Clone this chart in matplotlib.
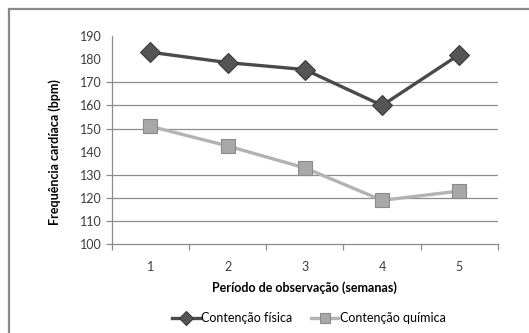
import matplotlib
matplotlib.use("Agg")
import matplotlib.pyplot as plt
from matplotlib.patches import Rectangle
from matplotlib.ticker import FixedLocator

# Heart rate per observation week, two restraint methods
semanas = [1, 2, 3, 4, 5]
contencao_fisica = [183, 178.5, 175.5, 160, 182]
contencao_quimica = [151, 142.5, 133, 119, 123]

y_ticks = [100, 110, 120, 130, 140, 150, 160, 170, 180, 190]
grid_vals = [110, 120, 130, 150, 160, 170]
tick_marks_y = [100, 110, 120, 130, 150, 160, 170]

plt.rcParams['font.family'] = ['Lato', 'DejaVu Sans']

fig = plt.figure(figsize=(5.29, 3.33), dpi=100)
ax = fig.add_axes([0.2112, 0.2664, 0.7302, 0.6255])

# outer chart frame (runs off the right/bottom edge)
fig.patches.append(Rectangle((9 / 529, -0.2), 1.2, 0.973 + 0.2, transform=fig.transFigure,
                             fill=False, edgecolor='#8a8a8a', linewidth=1.6))

for v in grid_vals:
    ax.axhline(v, color='#8c8c8c', linewidth=0.9, zorder=1)

ax.plot(semanas, contencao_fisica, color='#4a4a4a', linewidth=2.4, marker='D', markersize=10.5,
        markerfacecolor='#555555', markeredgecolor='#3a3a3a', markeredgewidth=0.8,
        label='Contenção física', zorder=3)
ax.plot(semanas, contencao_quimica, color='#b3b3b3', linewidth=2.4, marker='s', markersize=10,
        markerfacecolor='#a8a8a8', markeredgecolor='#8a8a8a', markeredgewidth=0.8,
        label='Contenção química', zorder=3)

ax.set_xlim(0.5, 5.5)
ax.set_ylim(100, 190)
ax.set_xticks(semanas)
ax.set_yticks(y_ticks)
ax.tick_params(axis='both', which='major', length=0, labelsize=9, labelcolor='#3c3c3c')
ax.tick_params(axis='y', which='major', pad=7)
ax.tick_params(axis='x', which='major', pad=12)

ax.xaxis.set_minor_locator(FixedLocator([0.5, 1.5, 2.5, 3.5, 4.5, 5.5]))
ax.yaxis.set_minor_locator(FixedLocator(tick_marks_y))
ax.yaxis.remove_overlapping_locs = False
ax.tick_params(axis='both', which='minor', length=4, width=0.9, color='#8c8c8c')

for side in ['top', 'right']:
    ax.spines[side].set_visible(False)
for side in ['left', 'bottom']:
    ax.spines[side].set_color('#8c8c8c')
    ax.spines[side].set_linewidth(0.9)

ax.set_xlabel('Período de observação (semanas)', fontsize=9, fontweight='bold', labelpad=6)
fig.text(55 / 529, 1 - 152 / 333, 'Frequência cardíaca (bpm)', rotation=90, fontsize=9,
         fontweight='bold', ha='center', va='center')

fig.legend(loc='center', bbox_to_anchor=(0.584, 0.045), ncol=2, frameon=False, fontsize=9,
           handlelength=2.2, columnspacing=1.5, handletextpad=0.1, markerscale=0.65)

fig.savefig('out.png', dpi=100)
